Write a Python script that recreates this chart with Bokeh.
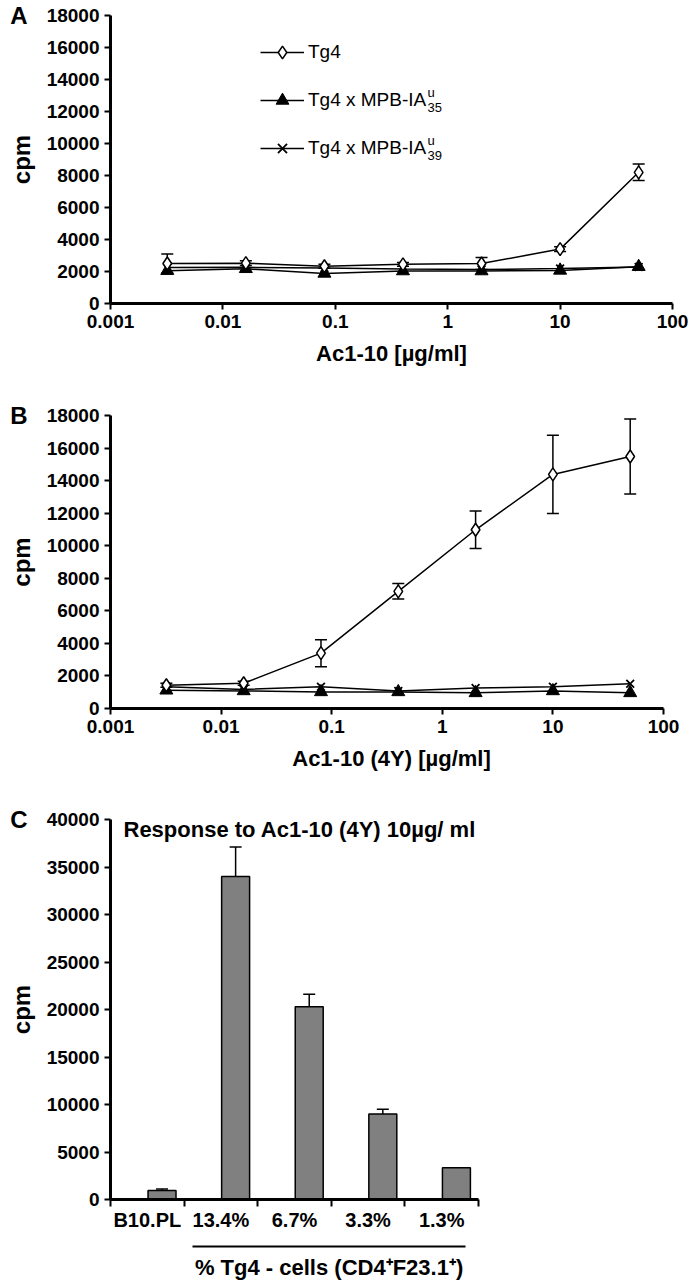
from bokeh.plotting import figure
from bokeh.models import (ColumnDataSource, Whisker, TeeHead, FixedTicker,
                          CustomJSTickFormatter, Legend, LegendItem, Label,
                          LinearAxis, Range1d)
from bokeh.layouts import column
from bokeh.embed import file_html
from bokeh.resources import INLINE
from bokeh.transform import dodge

# ---------------- data ----------------
conc = [0.0032, 0.016, 0.08, 0.4, 2, 10, 50]

a_tg4 = [2500, 2520, 2330, 2450, 2500, 3400, 8200]
a_tg4_err = [600, 150, 120, 120, 380, 150, 520]
a_ia35 = [2050, 2170, 1880, 2030, 2030, 2070, 2300]
a_ia39 = [2250, 2260, 2220, 2150, 2120, 2180, 2280]

b_tg4 = [1430, 1550, 3400, 7200, 10980, 14380, 15480]
b_tg4_err = [120, 120, 830, 480, 1150, 2400, 2300]
b_ia35 = [1120, 1080, 1020, 1020, 960, 1080, 960]
b_ia39 = [1330, 1170, 1340, 1080, 1260, 1340, 1520]

c_cats = ["B10.PL", "13.4%", "6.7%", "3.3%", "1.3%"]
c_vals = [950, 34000, 20300, 9000, 3350]
c_err = [150, 3100, 1300, 500, 0]

x_ticks = [0.001, 0.01, 0.1, 1, 10, 100]
y_ticks_ab = list(range(0, 18001, 2000))
y_ticks_c = list(range(0, 40001, 5000))

FONT = "Liberation Sans"
W = 695
FRAME_W = 562          # common frame width (frames are aligned in the column)
B_AXIS_W = 553         # panel B's axis is a bit shorter
C_AXIS_W = 368         # panel C's axis covers only the five groups


def style_axes(p, tick_size="19px"):
    p.xgrid.grid_line_color = None
    p.ygrid.grid_line_color = None
    for ax in p.axis:
        ax.axis_line_width = 3
        ax.axis_line_color = "black"
        ax.major_tick_line_width = 2
        ax.major_tick_out = 6
        ax.major_tick_in = 0
        ax.minor_tick_out = 0
        ax.minor_tick_in = 0
        ax.major_label_text_font = FONT
        ax.major_label_text_font_style = "bold"
        ax.major_label_text_font_size = tick_size
        ax.major_label_text_color = "black"
        ax.major_label_standoff = 5
        ax.axis_label_text_font = FONT
        ax.axis_label_text_font_style = "bold"
        ax.axis_label_text_font_size = "21px"
        ax.axis_label_text_color = "black"


def panel_letter(p, text, ytop):
    # letter drawn as the single label of an outer, line-less left axis
    ax = LinearAxis(ticker=FixedTicker(ticks=[ytop]),
                    formatter=CustomJSTickFormatter(args=dict(t=text), code="return t;"),
                    axis_line_color=None, major_tick_out=0, major_tick_in=0,
                    minor_tick_out=0, minor_tick_in=0,
                    major_label_standoff=-23,
                    major_label_text_font=FONT, major_label_text_font_style="bold",
                    major_label_text_font_size="24px", major_label_text_color="black")
    p.add_layout(ax, "left")


def line_panel(tg4, tg4_err, ia35, ia39, xlabel, height, top, bottom, axis_w):
    x_end = 10 ** (-3 + 5 * FRAME_W / axis_w)
    p = figure(width=W, height=height, x_axis_type="log",
               x_range=Range1d(0.001, x_end), y_range=Range1d(0, 18000),
               output_backend="svg", toolbar_location=None,
               min_border_left=110, min_border_right=W - 110 - FRAME_W,
               min_border_top=top, min_border_bottom=bottom,
               outline_line_color=None, background_fill_color="white")
    src = ColumnDataSource(dict(
        x=conc, tg4=tg4,
        lo=[v - e for v, e in zip(tg4, tg4_err)],
        hi=[v + e for v, e in zip(tg4, tg4_err)],
        ia35=ia35, ia39=ia39))
    w = Whisker(source=src, base="x", lower="lo", upper="hi",
                line_color="black", line_width=1.5, level="underlay",
                upper_head=TeeHead(size=12, line_width=1.5, line_color="black"),
                lower_head=TeeHead(size=12, line_width=1.5, line_color="black"))
    p.add_layout(w)
    l39 = p.line("x", "ia39", source=src, line_color="black", line_width=1.5)
    l35 = p.line("x", "ia35", source=src, line_color="black", line_width=1.5)
    l4 = p.line("x", "tg4", source=src, line_color="black", line_width=1.5)
    m39 = p.scatter("x", "ia39", source=src, marker="x", size=11,
                    line_color="black", line_width=1.8)
    m35 = p.scatter("x", "ia35", source=src, marker="triangle", size=13,
                    fill_color="black", line_color="black")
    m4 = p.scatter("x", "tg4", source=src, marker="diamond", size=13,
                   fill_color="white", line_color="black", line_width=1.5)
    p.xaxis.ticker = FixedTicker(ticks=x_ticks)
    p.xaxis.bounds = (x_ticks[0], x_ticks[-1])
    p.xaxis.formatter = CustomJSTickFormatter(
        code="return String(Number(tick.toPrecision(3)));")
    p.yaxis.ticker = FixedTicker(ticks=y_ticks_ab)
    p.xaxis.axis_label = xlabel
    p.yaxis.axis_label = "cpm"
    style_axes(p)
    p.xaxis.axis_label_text_font_size = "22px"
    p.yaxis.axis_label_text_font_size = "24px"
    p.xaxis.axis_label_standoff = 10
    p.yaxis.axis_label_standoff = 9
    return p, (l4, m4), (l35, m35), (l39, m39)


# ---------------- panel A ----------------
pA, r4, r35, r39 = line_panel(a_tg4, a_tg4_err, a_ia35, a_ia39,
                              "Ac1-10 [µg/ml]", 388, 15, 85, FRAME_W)
legend = Legend(items=[LegendItem(label="Tg4", renderers=list(r4)),
                       LegendItem(label="Tg4 x MPB-IA", renderers=list(r35)),
                       LegendItem(label="Tg4 x MPB-IA", renderers=list(r39))],
                location=(150, 139), glyph_width=44, glyph_height=32,
                label_height=32, spacing=16, padding=0, margin=0,
                border_line_color=None, background_fill_alpha=0,
                label_text_font=FONT, label_text_font_size="19px",
                label_standoff=4, label_text_color="black")
pA.add_layout(legend)
for sup, sub, yc in [("u", "35", 203), ("u", "39", 155)]:
    pA.add_layout(Label(x=317, y=yc + 8, x_units="screen", y_units="screen",
                        text=sup, text_font=FONT, text_font_size="13px",
                        text_baseline="middle", text_color="#000000"))
    pA.add_layout(Label(x=317, y=yc - 7, x_units="screen", y_units="screen",
                        text=sub, text_font=FONT, text_font_size="13px",
                        text_baseline="middle", text_color="#000000"))
panel_letter(pA, "A", 18000)

# ---------------- panel B ----------------
pB, _, _, _ = line_panel(b_tg4, b_tg4_err, b_ia35, b_ia39,
                         "Ac1-10 (4Y) [µg/ml]", 402, 27, 82, B_AXIS_W)
panel_letter(pB, "B", 18000)

# ---------------- panel C ----------------
n = len(c_cats)
xc = [i + 0.5 for i in range(n)]
srcC = ColumnDataSource(dict(xc=xc, val=c_vals,
                             hi=[v + e for v, e in zip(c_vals, c_err)]))
pC = figure(width=W, height=495, x_range=Range1d(0, n * FRAME_W / C_AXIS_W),
            y_range=Range1d(0, 40000), output_backend="svg",
            toolbar_location=None, min_border_left=110,
            min_border_right=W - 110 - FRAME_W,
            min_border_top=29, min_border_bottom=86,
            outline_line_color=None, background_fill_color="white")
wc = Whisker(source=srcC, base=dodge("xc", 0.2), lower="val", upper="hi",
             line_color="black", line_width=1.5, level="underlay",
             upper_head=TeeHead(size=12, line_width=1.5, line_color="black"),
             lower_head=None)
pC.add_layout(wc)
pC.vbar(x=dodge("xc", 0.2), top="val", width=0.38, source=srcC,
        fill_color="#808080", line_color="black", line_width=1.5)
pC.xaxis.ticker = FixedTicker(ticks=xc, minor_ticks=list(range(n + 1)))
pC.xaxis.bounds = (0, n)
pC.xaxis.formatter = CustomJSTickFormatter(args=dict(cats=c_cats),
                                           code="return cats[Math.floor(tick)];")
pC.yaxis.ticker = FixedTicker(ticks=y_ticks_c)
pC.yaxis.axis_label = "cpm"
style_axes(pC, tick_size="20px")
pC.yaxis.major_label_text_font_size = "19px"
pC.yaxis.axis_label_text_font_size = "24px"
pC.yaxis.axis_label_standoff = 9
pC.xaxis.major_tick_out = 0
pC.xaxis.minor_tick_out = 7
pC.xaxis.minor_tick_line_width = 2
pC.xaxis.major_label_standoff = 2
pC.xaxis.axis_label = " "
pC.xaxis.axis_label_text_font_size = "4px"
pC.xaxis.axis_label_standoff = 5

group_bounds = (1.12, 4.82)
ax2 = LinearAxis(ticker=FixedTicker(ticks=[sum(group_bounds) / 2]),
                 formatter=CustomJSTickFormatter(code="return '% Tg4 - cells (CD4⁺F23.1⁺)';"),
                 bounds=group_bounds,
                 axis_line_width=2, axis_line_color="black",
                 major_tick_out=0, major_tick_in=0, minor_tick_out=0, minor_tick_in=0,
                 major_label_standoff=8,
                 major_label_text_font=FONT, major_label_text_font_style="bold",
                 major_label_text_font_size="22px", major_label_text_color="black")
pC.add_layout(ax2, "below")
pC.add_layout(Label(x=13, y=370, x_units="screen", y_units="screen",
                    text="Response to Ac1-10 (4Y) 10µg/ ml", text_font=FONT,
                    text_font_style="bold", text_font_size="22px",
                    text_baseline="middle", text_color="black"))
panel_letter(pC, "C", 40000)

layout = column(pA, pB, pC, spacing=0)
open("out.html", "w").write(file_html(layout, INLINE))
